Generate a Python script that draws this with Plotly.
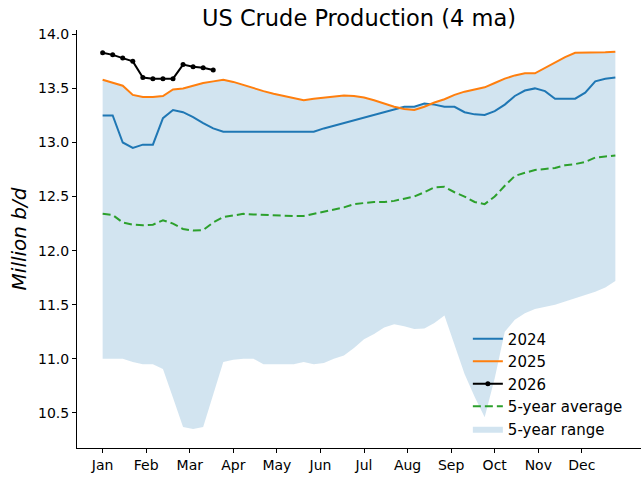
import plotly.graph_objects as go

weeks = list(range(52))
weeks_2026 = list(range(12))

month_labels = ["Jan", "Feb", "Mar", "Apr", "May", "Jun",
                "Jul", "Aug", "Sep", "Oct", "Nov", "Dec"]

prod_2024 = [13.25, 13.25, 13.00, 12.95, 12.98, 12.98, 13.225, 13.30, 13.28, 13.235,
             13.18, 13.13, 13.10, 13.10, 13.10, 13.10, 13.10, 13.10, 13.10, 13.10,
             13.10, 13.10, 13.13, 13.155, 13.18, 13.21, 13.23, 13.26, 13.28, 13.31,
             13.33, 13.33, 13.36, 13.35, 13.33, 13.33, 13.28, 13.26, 13.255, 13.29,
             13.35, 13.43, 13.48, 13.50, 13.475, 13.405, 13.405, 13.405, 13.46, 13.565,
             13.59, 13.60]

prod_2025 = [13.58, 13.555, 13.525, 13.44, 13.42, 13.42, 13.43, 13.49, 13.50, 13.525,
             13.55, 13.565, 13.58, 13.56, 13.53, 13.50, 13.475, 13.45, 13.43, 13.41,
             13.39, 13.405, 13.415, 13.425, 13.435, 13.43, 13.415, 13.39, 13.36, 13.33,
             13.31, 13.30, 13.33, 13.37, 13.40, 13.44, 13.47, 13.49, 13.51, 13.55,
             13.59, 13.62, 13.64, 13.64, 13.69, 13.74, 13.79, 13.83, 13.83, 13.83,
             13.835, 13.84]

prod_2026 = [13.83, 13.81, 13.78, 13.75, 13.60, 13.59, 13.59, 13.59, 13.72, 13.70,
             13.69, 13.67]

avg_5yr = [12.34, 12.33, 12.26, 12.24, 12.235, 12.24, 12.28, 12.25, 12.20, 12.185,
           12.19, 12.26, 12.31, 12.325, 12.34, 12.335, 12.33, 12.325, 12.32, 12.32,
           12.32, 12.34, 12.36, 12.38, 12.40, 12.43, 12.44, 12.45, 12.45, 12.46,
           12.48, 12.50, 12.54, 12.585, 12.59, 12.54, 12.50, 12.45, 12.43, 12.50,
           12.60, 12.69, 12.72, 12.745, 12.755, 12.765, 12.79, 12.80, 12.82, 12.86,
           12.87, 12.88]

range_hi = [13.58, 13.555, 13.525, 13.44, 13.42, 13.42, 13.43, 13.49, 13.50, 13.525,
            13.55, 13.565, 13.58, 13.56, 13.53, 13.50, 13.475, 13.45, 13.43, 13.41,
            13.39, 13.405, 13.415, 13.425, 13.435, 13.43, 13.415, 13.39, 13.36, 13.33,
            13.33, 13.33, 13.36, 13.37, 13.40, 13.44, 13.47, 13.49, 13.51, 13.55,
            13.59, 13.62, 13.64, 13.64, 13.69, 13.74, 13.79, 13.83, 13.83, 13.83,
            13.835, 13.84]

range_lo = [11.00, 11.00, 11.00, 10.97, 10.95, 10.95, 10.905, 10.64, 10.37, 10.35,
            10.37, 10.67, 10.97, 10.99, 11.00, 11.00, 10.95, 10.95, 10.95, 10.95,
            10.97, 10.95, 10.96, 11.00, 11.03, 11.10, 11.18, 11.23, 11.29, 11.32,
            11.30, 11.275, 11.28, 11.33, 11.40, 11.12, 10.86, 10.65, 10.46, 10.82,
            11.25, 11.36, 11.42, 11.46, 11.48, 11.50, 11.53, 11.56, 11.59, 11.62,
            11.66, 11.72]

month_pos = [i * 52 / 12 for i in range(12)]

FONT = "DejaVu Sans"
fig = go.Figure()

fig.add_trace(go.Scatter(x=weeks, y=range_lo, mode="lines", line=dict(width=0),
                         showlegend=False, hoverinfo="skip"))
fig.add_trace(go.Scatter(x=weeks, y=range_hi, mode="lines", line=dict(width=0),
                         fill="tonexty", fillcolor="rgba(31,119,180,0.2)",
                         name="5-year range", legendrank=5, legendgroup="g5"))
fig.add_trace(go.Scatter(x=weeks, y=avg_5yr, mode="lines",
                         line=dict(color="#2ca02c", width=2, dash="8px,4px"),
                         name="5-year average", legendrank=4, legendgroup="g4"))
fig.add_trace(go.Scatter(x=weeks, y=prod_2024, mode="lines",
                         line=dict(color="#1f77b4", width=2),
                         name="2024", legendrank=1, legendgroup="g1"))
fig.add_trace(go.Scatter(x=weeks, y=prod_2025, mode="lines",
                         line=dict(color="#ff7f0e", width=2),
                         name="2025", legendrank=2, legendgroup="g2"))
fig.add_trace(go.Scatter(x=weeks_2026, y=prod_2026, mode="lines+markers",
                         line=dict(color="black", width=2),
                         marker=dict(color="black", size=5),
                         name="2026", legendrank=3, legendgroup="g3"))

fig.update_layout(
    width=641, height=479,
    margin=dict(l=77, r=0, t=30, b=31),
    paper_bgcolor="white", plot_bgcolor="white",
    font=dict(family=FONT, size=14, color="black"),
    title=dict(text="US Crude Production (4 ma)", font=dict(size=22.5, family=FONT, color="black"),
               x=0.5, xref="paper", xanchor="center", y=0.979, yref="container", yanchor="top"),
    legend=dict(x=0.693, y=0.30, xanchor="left", yanchor="top",
                bgcolor="rgba(0,0,0,0)", font=dict(size=15, family=FONT),
                tracegroupgap=0, itemwidth=30),
    showlegend=True,
)

fig.update_xaxes(range=[-2.55, 53.55], tickvals=month_pos, ticktext=month_labels,
                 showline=True, linecolor="black", linewidth=1, ticks="outside",
                 ticklen=4, tickcolor="black", showgrid=False, zeroline=False,
                 tickfont=dict(size=14, family=FONT))
fig.update_yaxes(range=[10.175, 14.04], tickvals=[10.5, 11.0, 11.5, 12.0, 12.5, 13.0, 13.5, 14.0],
                 ticktext=["10.5", "11.0", "11.5", "12.0", "12.5", "13.0", "13.5", "14.0"],
                 showline=True, linecolor="black", linewidth=1, ticks="outside",
                 ticklen=4, tickcolor="black", showgrid=False, zeroline=False,
                 tickfont=dict(size=14, family=FONT),
                 title=dict(text="<i>Million b/d</i>", font=dict(size=20, family=FONT),
                            standoff=6))

fig.write_html("out.html", config={"displayModeBar": False},
               post_script="document.body.style.margin='0';document.body.style.overflow='hidden';")
